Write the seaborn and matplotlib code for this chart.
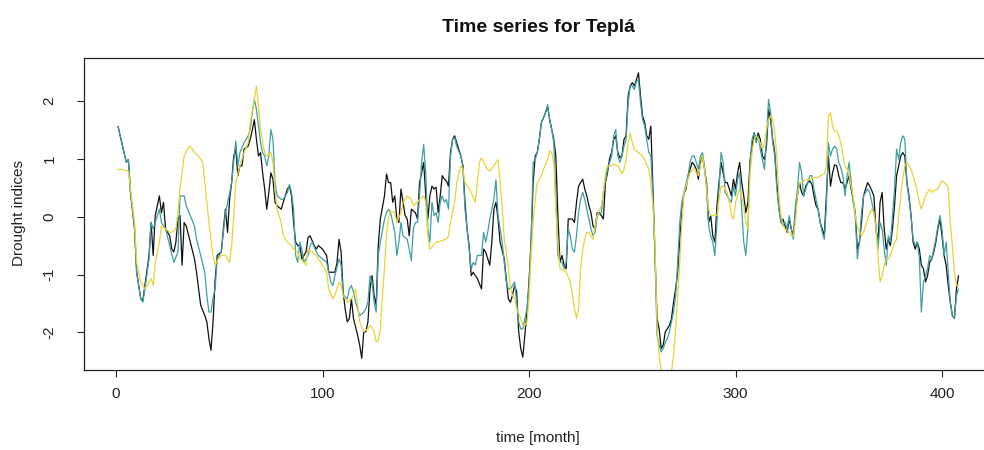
import matplotlib
matplotlib.use("Agg")
import matplotlib.pyplot as plt
import pandas as pd
import seaborn as sns

# Monthly drought index series for the Teplá catchment (month, index value)
black_month = [1, 5, 6, 7, 9, 10, 12, 13, 14, 16, 17, 18, 19, 21, 22, 23, 24, 26, 27, 28, 29, 30, 31, 32, 33, 34, 36, 38, 39, 41, 43, 44, 45, 46, 47, 48, 49, 51, 52, 53, 54, 55, 56, 57, 58, 59, 60, 61, 62, 64, 65, 66, 67, 68, 69, 70, 71, 72, 73, 74, 75, 76, 77, 78, 80, 81, 83, 84, 85, 86, 87, 88, 89, 90, 91, 92, 93, 94, 96, 97, 98, 100, 102, 103, 104, 106, 107, 108, 109, 110, 111, 112, 113, 114, 115, 117, 118, 119, 120, 121, 122, 123, 124, 125, 126, 127, 128, 130, 131, 132, 133, 134, 135, 136, 137, 138, 139, 140, 141, 142, 143, 145, 146, 147, 148, 149, 150, 151, 152, 153, 154, 155, 156, 157, 158, 159, 160, 161, 162, 163, 164, 165, 167, 168, 169, 170, 171, 172, 173, 174, 175, 177, 178, 179, 181, 182, 183, 184, 185, 186, 188, 189, 190, 191, 192, 193, 194, 195, 196, 197, 198, 199, 200, 201, 202, 203, 204, 205, 206, 207, 208, 209, 210, 211, 212, 213, 214, 215, 216, 217, 218, 219, 220, 221, 222, 223, 224, 225, 226, 227, 228, 229, 230, 231, 232, 233, 234, 235, 236, 237, 238, 239, 240, 241, 242, 243, 244, 245, 246, 247, 248, 249, 250, 251, 252, 253, 254, 255, 256, 257, 258, 259, 260, 261, 262, 263, 264, 265, 266, 267, 268, 269, 270, 271, 272, 273, 274, 275, 276, 277, 278, 279, 280, 281, 282, 283, 284, 285, 286, 287, 288, 289, 290, 291, 292, 293, 294, 295, 296, 297, 298, 299, 300, 301, 302, 303, 304, 305, 306, 307, 308, 309, 310, 311, 312, 313, 314, 315, 316, 317, 318, 319, 320, 321, 322, 323, 324, 325, 326, 327, 328, 329, 330, 331, 332, 333, 334, 335, 336, 337, 338, 339, 340, 341, 342, 343, 344, 345, 346, 347, 348, 349, 350, 351, 352, 353, 354, 355, 356, 357, 358, 359, 360, 361, 362, 363, 364, 365, 366, 367, 368, 369, 370, 371, 372, 373, 374, 375, 376, 377, 378, 379, 380, 381, 382, 383, 384, 385, 386, 387, 388, 389, 390, 391, 392, 393, 394, 395, 396, 397, 398, 399, 400, 401, 402, 403, 404, 405, 406, 407, 408]
black_value = [1.56, 0.94, 0.99, 0.42, -0.21, -0.96, -1.42, -1.45, -1.19, -0.67, -0.10, -0.67, 0.02, 0.36, 0.07, 0.25, -0.21, -0.33, -0.56, -0.61, -0.44, -0.04, 0.02, -0.84, -0.10, -0.16, -0.44, -0.73, -0.96, -1.53, -1.71, -1.82, -2.11, -2.31, -1.82, -1.10, -0.67, -0.61, -0.21, 0.13, -0.27, 0.30, 0.59, 1.05, 1.17, 0.71, 0.88, 0.88, 1.17, 1.22, 1.34, 1.50, 1.68, 1.34, 1.05, 1.11, 0.76, 0.48, 0.13, 0.42, 0.76, 0.65, 0.25, 0.19, 0.13, 0.25, 0.48, 0.53, 0.36, -0.10, -0.44, -0.50, -0.50, -0.73, -0.67, -0.61, -0.36, -0.33, -0.50, -0.56, -0.50, -0.56, -0.67, -0.96, -0.96, -0.96, -0.80, -0.39, -0.61, -1.30, -1.60, -1.82, -1.76, -1.42, -1.76, -2.05, -2.22, -2.45, -1.99, -1.99, -1.82, -1.25, -1.02, -1.36, -1.53, -0.50, -0.04, 0.36, 0.74, 0.59, 0.59, 0.25, 0.36, -0.04, -0.10, 0.48, 0.25, 0.02, -0.04, -0.33, 0.13, 0.07, -0.04, 0.59, 0.76, 0.94, 0.36, -0.04, 0.36, 0.53, 0.48, 0.51, 0.07, 0.36, 0.71, 0.65, 0.62, 0.53, 1.11, 1.34, 1.40, 1.28, 1.05, 0.88, 0.25, -0.21, -0.50, -1.02, -0.96, -1.02, -1.07, -1.25, -0.56, -0.61, -0.84, -0.44, 0.13, 0.25, -0.04, -0.44, -0.73, -1.07, -1.42, -1.48, -1.36, -1.19, -1.30, -1.99, -2.28, -2.43, -2.05, -1.65, -1.13, -0.44, 0.59, 1.05, 1.11, 1.34, 1.63, 1.71, 1.80, 1.91, 1.68, 1.51, 1.34, 1.05, 0.00, -0.79, -0.67, -0.84, -0.90, -0.04, -0.04, -0.04, -0.10, 0.25, 0.53, 0.59, 0.65, 0.48, 0.36, 0.19, 0.07, -0.16, -0.21, 0.07, 0.07, 0.02, -0.04, 0.59, 0.76, 1.00, 1.11, 1.34, 1.40, 1.11, 1.02, 1.05, 1.34, 1.40, 2.09, 2.26, 2.32, 2.26, 2.37, 2.49, 2.09, 1.74, 1.63, 1.40, 1.34, 1.57, 0.48, -0.67, -1.76, -1.94, -2.28, -2.22, -1.99, -1.94, -1.88, -1.76, -1.48, -1.25, -0.96, -0.39, 0.07, 0.40, 0.48, 0.70, 0.82, 0.94, 0.90, 0.82, 0.65, 0.94, 1.05, 0.82, 0.59, -0.10, 0.02, -0.33, -0.44, 0.19, 0.59, 0.94, 0.76, 0.59, 0.59, 0.48, 0.36, 0.65, 0.48, 0.76, 0.94, 0.59, 0.36, 0.07, 0.25, 0.94, 1.22, 1.45, 1.34, 1.45, 1.34, 1.05, 0.99, 1.22, 1.86, 1.68, 1.34, 1.11, 0.59, 0.19, -0.10, -0.04, -0.16, -0.27, -0.04, -0.21, -0.33, 0.07, 0.36, 0.59, 0.42, 0.36, 0.53, 0.59, 0.62, 0.56, 0.36, 0.19, 0.13, -0.10, -0.21, -0.33, 0.36, 1.05, 0.53, 0.76, 0.90, 0.88, 0.71, 0.59, 0.59, 0.48, 0.59, 0.71, 0.48, 0.30, 0.07, -0.56, -0.44, -0.10, 0.36, 0.48, 0.59, 0.53, 0.45, 0.36, -0.21, -0.44, 0.25, 0.42, -0.21, -0.56, -0.39, -0.50, -0.21, 0.19, 0.71, 0.88, 1.05, 1.11, 1.05, 0.59, 0.36, 0.02, -0.44, -0.56, -0.44, -0.56, -0.84, -0.90, -1.13, -1.02, -0.79, -0.73, -0.61, -0.44, -0.21, -0.04, -0.33, -0.67, -0.84, -1.19, -1.48, -1.71, -1.76, -1.25, -1.02]

teal_month = [1, 5, 6, 7, 9, 10, 12, 13, 14, 16, 17, 18, 19, 21, 22, 24, 26, 28, 30, 31, 33, 34, 36, 38, 39, 41, 43, 44, 45, 46, 47, 48, 49, 51, 53, 55, 56, 58, 59, 60, 62, 64, 65, 66, 67, 68, 70, 71, 72, 73, 74, 75, 76, 77, 78, 80, 81, 83, 84, 85, 86, 87, 88, 89, 90, 91, 93, 94, 95, 97, 98, 100, 102, 103, 104, 105, 106, 108, 109, 110, 112, 113, 114, 115, 116, 117, 118, 120, 121, 122, 123, 124, 125, 126, 127, 128, 130, 131, 132, 133, 135, 136, 137, 138, 139, 141, 142, 143, 144, 145, 146, 147, 148, 149, 150, 151, 152, 153, 154, 155, 156, 157, 158, 159, 160, 161, 162, 163, 164, 165, 167, 168, 169, 170, 171, 172, 173, 174, 175, 177, 178, 179, 180, 181, 183, 184, 185, 187, 188, 189, 190, 191, 192, 193, 194, 195, 196, 197, 198, 199, 200, 201, 202, 203, 204, 205, 206, 207, 208, 209, 210, 211, 212, 213, 214, 215, 216, 217, 218, 219, 220, 221, 222, 223, 224, 225, 226, 227, 228, 229, 230, 231, 232, 233, 235, 236, 238, 240, 241, 242, 243, 244, 245, 246, 247, 248, 249, 250, 251, 252, 253, 254, 255, 256, 257, 258, 259, 260, 261, 262, 263, 264, 265, 266, 267, 268, 269, 270, 271, 272, 273, 274, 275, 277, 278, 279, 280, 281, 282, 283, 284, 285, 286, 287, 288, 289, 290, 291, 292, 293, 294, 295, 296, 297, 298, 299, 300, 301, 302, 303, 304, 305, 306, 307, 308, 309, 310, 311, 312, 313, 314, 315, 316, 317, 318, 319, 320, 321, 322, 323, 324, 325, 326, 327, 328, 329, 330, 331, 332, 333, 334, 335, 336, 337, 338, 339, 340, 341, 342, 343, 344, 345, 346, 347, 348, 349, 350, 351, 352, 353, 354, 355, 356, 357, 358, 359, 360, 361, 362, 363, 364, 365, 366, 367, 368, 369, 370, 371, 372, 373, 374, 375, 376, 377, 378, 379, 380, 381, 382, 383, 384, 385, 386, 387, 388, 389, 390, 391, 392, 393, 394, 395, 396, 397, 398, 399, 400, 401, 402, 403, 404, 405, 406, 407, 408]
teal_value = [1.56, 0.94, 0.99, 0.45, -0.21, -0.96, -1.42, -1.48, -1.25, -0.73, -0.10, -0.21, -0.10, 0.13, -0.10, -0.21, -0.50, -0.79, -0.61, 0.36, 0.36, 0.19, 0.02, -0.16, -0.39, -0.67, -0.96, -1.36, -1.65, -1.65, -1.40, -1.25, -0.73, -0.61, 0.07, 0.40, 0.59, 1.31, 0.88, 1.11, 1.28, 1.40, 1.51, 1.80, 2.03, 1.86, 1.28, 1.11, 1.05, 0.88, 1.05, 1.51, 1.34, 0.59, 0.36, 0.30, 0.30, 0.42, 0.56, 0.42, 0.13, -0.67, -0.79, -0.44, -0.56, -0.79, -0.67, -0.50, -0.44, -0.61, -0.67, -0.73, -0.79, -0.96, -1.13, -1.19, -1.02, -0.73, -0.84, -1.36, -1.42, -1.25, -1.19, -1.30, -1.48, -1.59, -1.71, -1.65, -1.59, -1.48, -1.02, -1.13, -1.48, -1.65, -0.67, -0.44, -0.05, 0.07, 0.13, 0.07, -0.27, -0.67, -0.44, -0.10, -0.33, -0.39, -0.56, -0.76, -0.21, -0.10, -0.10, 0.36, 0.94, 1.25, 0.76, -0.21, -0.44, 0.25, 0.02, 0.07, -0.10, 0.25, 0.36, 0.25, 0.30, 0.13, 1.05, 1.34, 1.37, 1.22, 1.05, 0.88, 0.13, -0.21, -0.56, -0.90, -0.79, -0.84, -0.67, -0.67, -0.27, -0.44, -0.27, -0.04, 0.30, 0.64, 0.02, -0.44, -0.79, -1.13, -1.25, -1.25, -1.19, -1.13, -1.48, -1.82, -1.94, -1.94, -1.76, -1.59, -1.19, -0.44, 0.94, 0.99, 1.11, 1.34, 1.63, 1.71, 1.80, 1.94, 1.68, 1.51, 1.28, 0.36, -0.67, -0.79, -0.79, -0.90, -0.79, -0.21, -0.33, -0.56, -0.61, -0.33, 0.07, 0.30, 0.42, 0.30, 0.13, -0.04, -0.21, -0.33, -0.27, 0.02, 0.07, 0.42, 0.82, 1.05, 1.40, 1.51, 1.05, 0.94, 1.05, 1.22, 1.34, 1.97, 2.26, 2.26, 2.20, 2.34, 2.37, 1.97, 1.68, 1.57, 1.34, 1.11, 1.05, 0.36, -0.67, -2.05, -2.22, -2.34, -2.28, -2.17, -2.11, -1.99, -1.82, -1.65, -1.36, -0.79, -0.10, 0.25, 0.42, 0.71, 0.94, 1.05, 1.05, 0.94, 0.82, 1.05, 1.11, 0.88, 0.48, -0.16, -0.33, -0.44, -0.67, -0.10, 0.48, 1.11, 0.94, 0.42, 0.36, 0.30, 0.25, 0.53, 0.36, 0.65, 0.76, 0.13, -0.44, -0.67, -0.21, 0.94, 1.34, 1.45, 1.28, 1.40, 1.17, 0.99, 0.82, 1.34, 2.03, 1.80, 1.28, 1.05, 0.48, 0.13, -0.10, -0.15, -0.10, -0.21, 0.02, -0.21, -0.39, 0.19, 0.48, 0.94, 0.76, 0.36, 0.48, 0.59, 0.71, 0.71, 0.48, 0.30, 0.13, -0.10, -0.27, -0.39, 0.19, 1.28, 1.05, 1.17, 1.22, 1.17, 0.94, 0.85, 0.71, 0.36, 0.71, 0.94, 0.59, 0.25, 0.02, -0.73, -0.44, 0.07, 0.36, 0.42, 0.48, 0.42, 0.25, 0.07, -0.16, -0.56, -0.10, -0.21, -0.56, -0.84, -0.33, -0.44, 0.02, 0.48, 1.17, 0.99, 1.28, 1.40, 1.34, 0.59, 0.30, 0.02, -0.39, -0.50, -0.44, -0.70, -1.65, -1.13, -1.02, -0.90, -0.67, -0.73, -0.56, -0.39, -0.16, 0.02, -0.21, -0.67, -0.44, -0.96, -1.48, -1.71, -1.76, -1.36, -1.25]

yellow_month = [1, 3, 5, 6, 7, 9, 10, 12, 14, 15, 17, 18, 19, 21, 22, 24, 26, 27, 29, 30, 31, 33, 35, 36, 38, 40, 42, 43, 45, 47, 48, 49, 51, 53, 55, 56, 57, 58, 59, 60, 62, 64, 65, 67, 68, 69, 70, 71, 72, 73, 75, 76, 77, 78, 80, 81, 83, 85, 86, 88, 89, 91, 92, 93, 95, 97, 98, 100, 102, 103, 105, 106, 108, 109, 110, 112, 114, 115, 116, 117, 118, 120, 122, 123, 125, 126, 127, 128, 129, 130, 131, 132, 133, 135, 136, 138, 139, 141, 143, 144, 146, 147, 149, 150, 151, 152, 153, 155, 156, 158, 160, 161, 162, 164, 165, 167, 168, 169, 171, 172, 174, 175, 176, 177, 178, 179, 180, 181, 183, 185, 186, 187, 188, 189, 190, 191, 192, 193, 194, 196, 197, 198, 199, 200, 201, 202, 203, 204, 206, 207, 209, 210, 211, 212, 213, 214, 215, 217, 218, 220, 221, 222, 223, 224, 225, 226, 227, 228, 229, 230, 231, 232, 233, 235, 236, 237, 238, 240, 241, 243, 244, 245, 246, 247, 248, 249, 250, 251, 252, 253, 255, 256, 258, 259, 260, 261, 262, 263, 264, 265, 266, 267, 268, 269, 270, 271, 272, 273, 274, 275, 277, 278, 280, 281, 282, 283, 284, 285, 286, 287, 288, 290, 291, 292, 293, 294, 296, 297, 298, 299, 300, 301, 302, 304, 305, 306, 307, 308, 309, 310, 311, 312, 313, 314, 315, 316, 317, 318, 319, 320, 321, 322, 323, 324, 325, 326, 327, 328, 329, 330, 331, 332, 333, 335, 336, 338, 340, 341, 343, 344, 345, 346, 347, 348, 349, 350, 351, 352, 353, 354, 355, 356, 357, 358, 359, 360, 361, 362, 363, 364, 365, 366, 367, 368, 369, 370, 371, 372, 373, 374, 375, 376, 377, 378, 379, 380, 381, 382, 383, 384, 385, 386, 387, 388, 389, 390, 391, 392, 393, 394, 395, 396, 398, 399, 400, 401, 402, 403, 404, 405, 406, 407, 408]
yellow_value = [0.82, 0.82, 0.79, 0.79, 0.48, -0.10, -0.79, -1.13, -1.25, -1.19, -1.07, -1.19, -0.79, -0.44, -0.16, -0.21, -0.27, -0.27, -0.21, 0.07, 0.48, 1.05, 1.20, 1.22, 1.11, 1.05, 0.94, 0.59, -0.10, -0.67, -0.84, -0.76, -0.67, -0.67, -0.79, -0.50, 0.00, 0.59, 0.75, 0.88, 1.11, 1.28, 1.63, 2.03, 2.26, 1.91, 1.51, 1.28, 1.11, 1.05, 1.11, 0.94, 0.48, 0.13, -0.10, -0.33, -0.44, -0.50, -0.56, -0.61, -0.73, -0.79, -0.84, -0.56, -0.61, -0.67, -0.73, -0.84, -0.96, -1.25, -1.42, -1.36, -1.13, -1.19, -1.36, -1.48, -1.42, -1.36, -1.25, -1.53, -1.82, -1.99, -1.94, -1.88, -1.99, -2.17, -2.14, -1.94, -1.36, -0.90, -0.30, 0.00, 0.10, 0.07, -0.10, 0.07, 0.25, 0.36, 0.30, 0.19, 0.25, 0.30, 0.36, 0.25, -0.33, -0.56, -0.53, -0.44, -0.44, -0.41, -0.39, -0.33, -0.10, 0.25, 0.59, 0.88, 0.82, 0.59, 0.48, 0.42, 0.25, 0.59, 0.94, 1.02, 0.94, 0.88, 0.82, 0.79, 0.88, 0.99, 0.59, 0.19, -0.39, -0.60, -0.90, -1.25, -1.36, -1.42, -1.59, -1.76, -1.88, -1.88, -1.82, -1.42, -0.67, -0.10, 0.30, 0.59, 0.71, 0.82, 0.99, 1.14, 1.11, 0.94, 0.13, -0.44, -0.90, -0.93, -0.96, -1.13, -1.36, -1.59, -1.76, -1.59, -0.90, -0.56, -0.39, -0.27, -0.27, -0.33, -0.39, -0.16, 0.02, 0.19, 0.42, 0.76, 0.88, 0.88, 0.91, 0.88, 0.82, 0.74, 0.82, 0.99, 1.28, 1.45, 1.28, 1.17, 1.14, 1.11, 1.05, 0.99, 0.82, 0.59, 0.19, -0.44, -1.94, -2.40, -2.66, -2.86, -2.97, -2.97, -2.91, -2.68, -2.40, -1.94, -1.36, -0.79, -0.10, 0.40, 0.65, 0.76, 0.85, 0.76, 0.71, 0.88, 1.05, 0.82, 0.48, 0.13, 0.02, 0.02, 0.02, 0.30, 0.53, 0.53, 0.42, 0.25, 0.02, -0.04, 0.25, 0.36, 0.48, 0.19, -0.10, -0.21, 0.71, 1.11, 1.34, 1.40, 1.34, 1.28, 1.17, 1.28, 1.51, 1.68, 1.74, 1.68, 1.45, 1.05, 0.36, 0.02, -0.16, -0.21, -0.24, -0.27, -0.33, -0.33, -0.10, 0.36, 0.59, 0.59, 0.62, 0.65, 0.65, 0.68, 0.68, 0.71, 0.74, 0.88, 1.74, 1.80, 1.57, 1.48, 1.48, 1.40, 1.28, 1.08, 0.88, 0.82, 0.71, 0.53, 0.36, 0.02, -0.16, -0.27, -0.33, -0.27, -0.16, -0.04, 0.07, 0.13, 0.07, -0.21, -0.67, -1.13, -1.02, -0.84, -0.73, -0.73, -0.67, -0.56, -0.45, -0.39, 0.02, 0.36, 0.65, 0.88, 0.94, 0.88, 0.82, 0.71, 0.59, 0.42, 0.25, 0.13, 0.25, 0.36, 0.42, 0.48, 0.42, 0.45, 0.48, 0.56, 0.62, 0.59, 0.56, 0.50, -0.10, -0.50, -0.96, -1.19, -1.19]

series_order = ["black", "teal", "yellow"]
series_colors = {"black": "#111111", "teal": "#3E9FA3", "yellow": "#E8D437"}

x_ticks = [0, 100, 200, 300, 400]
y_ticks = [-2, -1, 0, 1, 2]

frames = [
    pd.DataFrame({"month": black_month, "value": black_value, "series": "black"}),
    pd.DataFrame({"month": teal_month, "value": teal_value, "series": "teal"}),
    pd.DataFrame({"month": yellow_month, "value": yellow_value, "series": "yellow"}),
]
df = pd.concat(frames, ignore_index=True)

sns.set_theme(style="white")
plt.rcParams["font.family"] = ["Liberation Sans", "DejaVu Sans"]

W, H = 984, 450
fig = plt.figure(figsize=(W / 100, H / 100), dpi=100)
fig.patch.set_facecolor("white")
# plotting region; the right edge of the frame runs past the canvas
ax = fig.add_axes([84.4 / W, 80 / H, 907.8 / W, 312 / H])

sns.lineplot(
    data=df, x="month", y="value", hue="series",
    hue_order=series_order, palette=series_colors,
    estimator=None, sort=False, legend=False,
    linewidth=0.9, ax=ax,
)

ax.set_xlim(-15.3, 424.3)
ax.set_ylim(-2.652, 2.746)
ax.set_xticks(x_ticks)
ax.set_yticks(y_ticks)
ax.set_xticklabels([str(t) for t in x_ticks])
ax.set_yticklabels([str(t) for t in y_ticks])
ax.set_xlabel("")
ax.set_ylabel("")

for side in ["left", "bottom", "top", "right"]:
    ax.spines[side].set_visible(True)
    ax.spines[side].set_color("#222222")
    ax.spines[side].set_linewidth(0.9)

ax.tick_params(axis="both", direction="out", length=5, width=0.8,
               color="#222222", labelsize=11, labelcolor="#222222")
ax.tick_params(axis="x", pad=7, bottom=True)
ax.tick_params(axis="y", pad=15, left=True, labelrotation=90)
for lab in ax.get_yticklabels():
    lab.set_va("center")

fig.text(538 / W, 1 - 27 / H, "Time series for Teplá", ha="center", va="center",
         fontsize=14, fontweight="bold", color="#111111")
fig.text(538 / W, 1 - 438 / H, "time [month]", ha="center", va="center",
         fontsize=11, color="#222222")
fig.text(19 / W, 1 - 213 / H, "Drought indices", ha="center", va="center",
         rotation=90, fontsize=11, color="#222222")

fig.savefig("out.png", dpi=100, facecolor="white")
